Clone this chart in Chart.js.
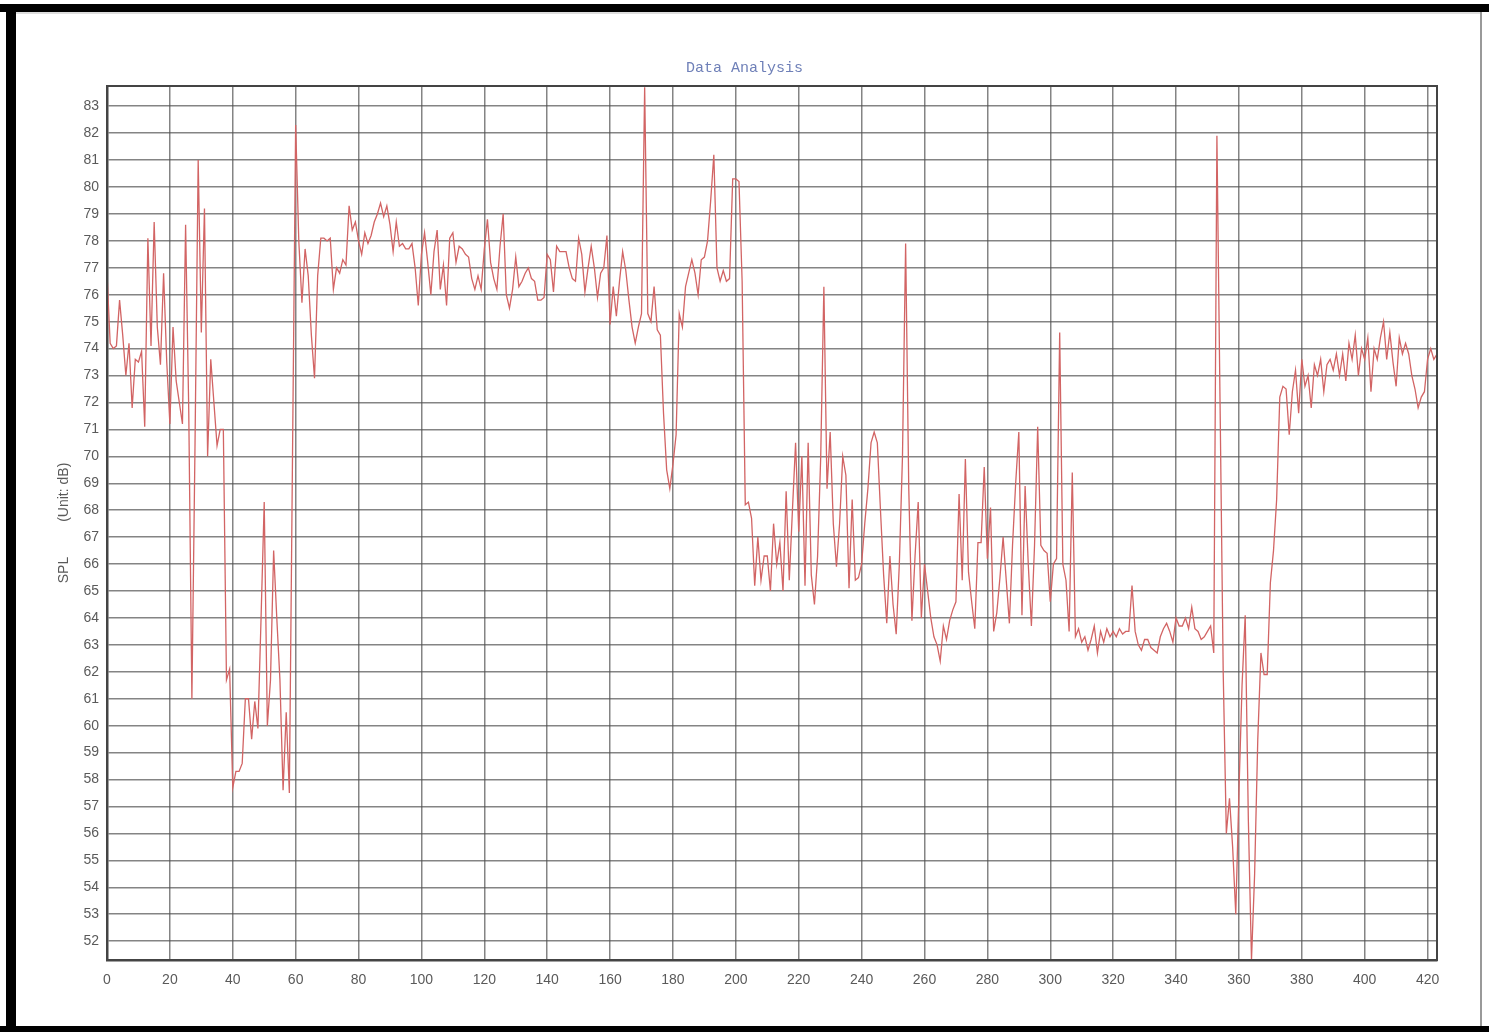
<!DOCTYPE html>
<html>
<head>
<meta charset="utf-8">
<title>Data Analysis</title>
<script src="https://cdn.jsdelivr.net/npm/chart.js@4.4.1/dist/chart.umd.min.js"></script>
<style>
  html, body { margin: 0; padding: 0; background: #fff; }
  #wrap { position: relative; width: 1489px; height: 1032px; }
  canvas { display: block; }
</style>
</head>
<body>
<div id="wrap"><canvas id="splChart" width="1489" height="1032"></canvas></div>
<script>
// SPL samples, one per x step
const splPart1 = [
  76.8, 74.2, 74.0, 74.1, 75.8, 74.5, 73.0, 74.2, 71.8, 73.6,
  73.5, 73.9, 71.1, 78.1, 74.1, 78.7, 74.8, 73.4, 76.8, 73.5,
  71.2, 74.8, 72.8, 72.0, 71.2, 78.6, 71.7, 61.0, 70.5, 81.0,
  74.6, 79.2, 70.0, 73.6, 72.0, 70.4, 71.0, 71.0, 61.7, 62.1,
  57.7, 58.3, 58.3, 58.6, 61.0, 61.0, 59.5, 60.9, 59.9, 64.0,
  68.3, 60.0, 61.7, 66.5, 64.0, 61.7, 57.6, 60.5, 57.5, 70.0
];
const splPart2 = [
  82.3, 78.0, 75.7, 77.7, 76.7, 74.5, 72.9, 76.7, 78.1, 78.1,
  78.0, 78.1, 76.2, 77.0, 76.8, 77.3, 77.1, 79.3, 78.4, 78.7,
  78.0, 77.5, 78.3, 77.9, 78.2, 78.7, 79.0, 79.4, 78.9, 79.3,
  78.6, 77.6, 78.7, 77.8, 77.9, 77.7, 77.7, 77.9, 77.0, 75.6,
  77.5, 78.3, 77.2, 76.0, 77.6, 78.4, 76.2, 77.1, 75.6, 78.1,
  78.3, 77.2, 77.8, 77.7, 77.5, 77.4, 76.6, 76.2, 76.7, 76.2
];
const splPart3 = [
  77.7, 78.8, 77.2, 76.6, 76.2, 77.8, 79.0, 76.0, 75.5, 76.2,
  77.4, 76.3, 76.5, 76.8, 77.0, 76.6, 76.5, 75.8, 75.8, 75.9,
  77.5, 77.3, 76.1, 77.8, 77.6, 77.6, 77.6, 77.0, 76.6, 76.5,
  78.1, 77.5, 76.1, 77.0, 77.8, 77.0, 75.9, 76.8, 77.0, 78.2,
  74.9, 76.3, 75.2, 76.5, 77.6, 76.9, 75.8, 74.8, 74.2, 74.8,
  75.3, 83.7, 75.3, 75.0, 76.3, 74.7, 74.5, 71.6, 69.5, 68.8
];
const splPart4 = [
  69.7, 70.8, 75.3, 74.8, 76.3, 76.8, 77.3, 76.8, 76.0, 77.3,
  77.4, 78.0, 79.5, 81.2, 77.0, 76.5, 76.9, 76.5, 76.6, 80.3,
  80.3, 80.2, 76.5, 68.2, 68.3, 67.7, 65.2, 67.0, 65.4, 66.3,
  66.3, 65.0, 67.5, 66.0, 66.8, 65.0, 68.7, 65.4, 68.0, 70.5,
  67.2, 70.0, 65.2, 70.5, 65.6, 64.5, 66.3, 70.0, 76.3, 68.8,
  70.9, 67.5, 65.9, 67.5, 70.0, 69.3, 65.1, 68.4, 65.4, 65.5
];
const splPart5 = [
  66.0, 67.5, 68.8, 70.5, 70.9, 70.5, 68.0, 65.6, 63.8, 66.3,
  64.5, 63.4, 66.0, 70.0, 77.9, 68.8, 63.9, 66.3, 68.3, 64.0,
  66.0, 65.0, 64.0, 63.3, 63.0, 62.4, 63.7, 63.2, 63.9, 64.3,
  64.6, 68.6, 65.4, 69.9, 65.7, 64.6, 63.6, 66.8, 66.8, 69.6,
  66.2, 68.1, 63.5, 64.2, 65.5, 67.0, 65.4, 63.8, 66.7, 69.0,
  70.9, 64.1, 68.9, 66.0, 63.7, 66.7, 71.1, 66.7, 66.5, 66.4
];
const splPart6 = [
  64.6, 66.0, 66.2, 74.6, 66.0, 65.4, 63.5, 69.4, 63.3, 63.6,
  63.1, 63.3, 62.8, 63.2, 63.7, 62.7, 63.5, 63.1, 63.6, 63.3,
  63.5, 63.3, 63.6, 63.4, 63.5, 63.5, 65.2, 63.5, 63.0, 62.8,
  63.2, 63.2, 62.9, 62.8, 62.7, 63.3, 63.6, 63.8, 63.5, 63.1,
  64.0, 63.7, 63.7, 64.0, 63.6, 64.4, 63.6, 63.5, 63.2, 63.3,
  63.5, 63.7, 62.7, 81.9, 72.0, 62.0, 56.0, 57.3, 55.5, 53.0
];
const splPart7 = [
  57.5, 61.5, 64.1, 56.5, 51.3, 54.5, 59.5, 62.7, 61.9, 61.9,
  65.3, 66.5, 68.4, 72.2, 72.6, 72.5, 70.8, 72.4, 73.2, 71.6,
  73.6, 72.6, 73.0, 71.8, 73.4, 73.0, 73.6, 72.4, 73.4, 73.6,
  73.2, 73.8, 73.0, 73.8, 72.8, 74.2, 73.6, 74.5, 73.0, 74.0,
  73.6, 74.4, 72.4, 74.0, 73.6, 74.4, 75.0, 73.6, 74.6, 73.5,
  72.6, 74.4, 73.8, 74.2, 73.8, 73.0, 72.5, 71.8, 72.2, 72.4,
  73.6, 74.0, 73.6, 73.8
];

const xTickValues = [0, 20, 40, 60, 80, 100, 120, 140, 160, 180, 200, 220,
  240, 260, 280, 300, 320, 340, 360, 380, 400, 420];
const yTickValues = [52, 53, 54, 55, 56, 57, 58, 59, 60, 61, 62, 63, 64, 65, 66, 67,
  68, 69, 70, 71, 72, 73, 74, 75, 76, 77, 78, 79, 80, 81, 82, 83];

const chartTitle = 'Data Analysis';
const yAxisTitle = 'SPL         (Unit: dB)';

const splValues = [].concat(splPart1, splPart2, splPart3, splPart4, splPart5, splPart6, splPart7);
const points = splValues.map((v, i) => ({ x: i, y: v }));

// white page + scanner frame, plot box outline
const pagePlugin = {
  id: 'page',
  beforeDraw(chart) {
    const ctx = chart.ctx;
    ctx.save();
    ctx.fillStyle = '#fff';
    ctx.fillRect(0, 0, chart.width, chart.height);
    ctx.restore();
  },
  afterDraw(chart) {
    const ctx = chart.ctx;
    const a = chart.chartArea;
    ctx.save();
    ctx.strokeStyle = '#444';
    ctx.lineWidth = 2;
    ctx.strokeRect(a.left, a.top, a.right - a.left, a.bottom - a.top);
    // scan frame
    ctx.fillStyle = '#000';
    ctx.fillRect(0, 4, chart.width, 8);
    ctx.fillRect(6, 4, 10, chart.height - 4);
    ctx.fillRect(0, 1026, chart.width, 6);
    ctx.fillStyle = '#999';
    ctx.fillRect(1480, 12, 2, 1014);
    ctx.fillStyle = '#ddd';
    ctx.fillRect(16, 12, 1464, 2);
    ctx.restore();
  }
};

const ctx = document.getElementById('splChart').getContext('2d');
new Chart(ctx, {
  type: 'line',
  data: {
    datasets: [{
      data: points,
      borderColor: '#d26464',
      borderWidth: 1.3,
      pointRadius: 0,
      tension: 0,
      fill: false,
    }],
  },
  options: {
    responsive: false,
    animation: false,
    devicePixelRatio: 1,
    layout: {
      padding: { left: 52, right: 52, top: 59, bottom: 20 },
    },
    plugins: {
      legend: { display: false },
      tooltip: { enabled: false },
      title: {
        display: true,
        text: chartTitle,
        color: '#6f80b8',
        font: { family: '"Liberation Mono", "DejaVu Sans Mono", monospace', size: 15, weight: 'normal' },
        padding: { top: 0, bottom: 9 },
      },
    },
    scales: {
      x: {
        type: 'linear',
        min: 0,
        max: 423,
        afterFit: (s) => { s.height = 52; },
        afterBuildTicks: (s) => { s.ticks = xTickValues.map((v) => ({ value: v })); },
        grid: { color: 'rgba(80,80,80,0.7)', lineWidth: 1.5, drawTicks: false },
        border: { display: true, color: '#444', width: 2.5 },
        ticks: {
          color: '#5a5a5a',
          padding: 12,
          maxRotation: 0,
          autoSkip: false,
          font: { family: '"Liberation Sans", Arial, sans-serif', size: 14 },
        },
      },
      y: {
        min: 51.3,
        max: 83.75,
        afterFit: (s) => { s.width = 55; },
        afterBuildTicks: (s) => { s.ticks = yTickValues.map((v) => ({ value: v })); },
        grid: { color: 'rgba(80,80,80,0.7)', lineWidth: 1.5, drawTicks: false },
        border: { display: true, color: '#444', width: 2.5 },
        title: {
          display: true,
          text: yAxisTitle,
          color: '#5a5a5a',
          padding: { top: 4, bottom: 0 },
          font: { family: '"Liberation Sans", Arial, sans-serif', size: 14 },
        },
        ticks: {
          color: '#5a5a5a',
          padding: 8,
          autoSkip: false,
          font: { family: '"Liberation Sans", Arial, sans-serif', size: 14 },
        },
      },
    },
  },
  plugins: [pagePlugin],
});
</script>
</body>
</html>
